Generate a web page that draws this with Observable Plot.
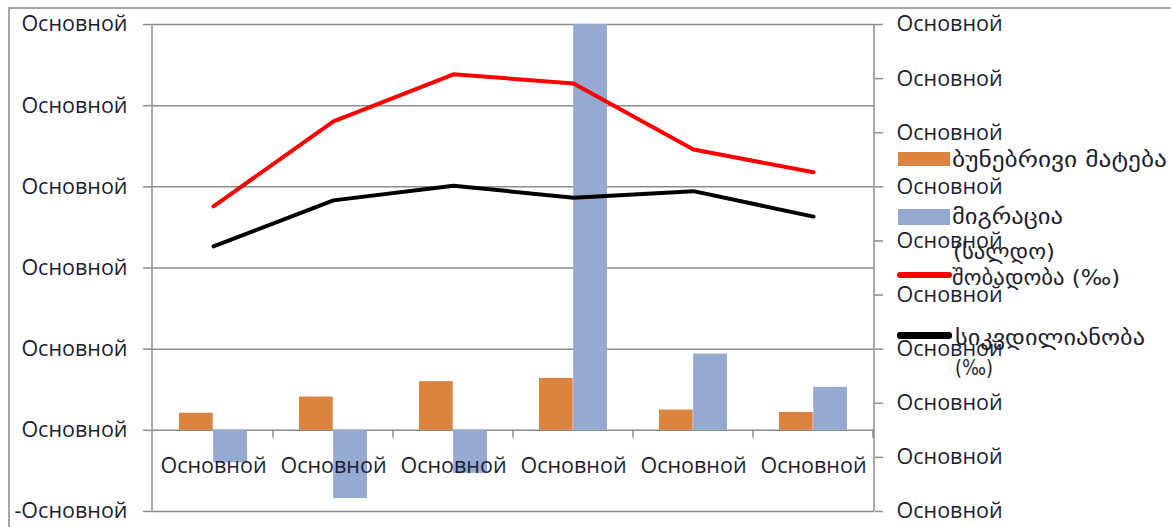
<!DOCTYPE html>
<html><head><meta charset="utf-8">
<script src="https://cdn.jsdelivr.net/npm/d3@7"></script>
<script src="https://cdn.jsdelivr.net/npm/@observablehq/plot@0.6"></script>
<style>
body{margin:0;background:#fff;}
#wrap{position:relative;width:1171px;height:527px;overflow:hidden;font-family:"Open Sans","DejaVu Sans",sans-serif;background:#fff;}
#border{position:absolute;left:8px;top:7px;width:1200px;height:600px;border-left:2px solid #a6a6a6;border-top:2px solid #a6a6a6;}
#chart{position:absolute;left:0;top:0;}
.sw{position:absolute;}
.lg{position:absolute;font-size:21px;color:#1e1e2e;line-height:1;white-space:nowrap;font-family:"DejaVu Sans",sans-serif;transform-origin:0 0;}
</style></head><body><div id="wrap"><div id="border"></div><div id="chart"></div></div>
<script>
// ---- data ----
const categories = ["c1","c2","c3","c4","c5","c6"];
const categoryLabel = "Основной";
const naturalIncrease = [210, 410, 600, 640, 250, 220];     // left axis
const migration = [-400, -840, -530, 5000, 940, 530];        // left axis
const birthRate = [13.64, 15.21, 16.08, 15.91, 14.69, 14.27]; // right axis (‰)
const deathRate = [12.90, 13.75, 14.02, 13.80, 13.92, 13.45]; // right axis (‰)
const leftTicks = [-1000, 0, 1000, 2000, 3000, 4000, 5000];
const rightTicks = [8, 9, 10, 11, 12, 13, 14, 15, 16, 17];
const seriesNames = ["ბუნებრივი მატება", "მიგრაცია", "(სალდო)", "შობადობა (‰)", "სიკვდილიანობა", "(‰)"];
const colors = {nat:"#DC843F", mig:"#95AAD1", birth:"#FF0000", death:"#000000"};

// right axis -> left axis mapping
const leftDom = [-1000, 5000], rightDom = [8, 17];
const toLeft = v => leftDom[0] + (v - rightDom[0]) / (rightDom[1] - rightDom[0]) * (leftDom[1] - leftDom[0]);

const barsNat = categories.map((c, i) => ({c, v: naturalIncrease[i]}));
const barsMig = categories.map((c, i) => ({c, v: migration[i]}));
const lineBirth = categories.map((c, i) => ({c, v: toLeft(birthRate[i])}));
const lineDeath = categories.map((c, i) => ({c, v: toLeft(deathRate[i])}));

const gray = "#8c8c8c";
const textColor = "#1e1e2e";
const font = "'Open Sans','DejaVu Sans',sans-serif";

const axisLines = (index, scales, values, dims) => {
  const g = document.createElementNS("http://www.w3.org/2000/svg", "g");
  const l = dims.marginLeft, r = dims.width - dims.marginRight;
  const t = dims.marginTop, b = dims.height - dims.marginBottom;
  const y0 = scales.y(0);
  const bw = scales.x.bandwidth ? scales.x.bandwidth() : 0;
  let s = `<line x1="${l}" x2="${l}" y1="${t}" y2="${b}" stroke="${gray}" stroke-width="1.5"/>`;
  s += `<line x1="${r}" x2="${r}" y1="${t}" y2="${b}" stroke="${gray}" stroke-width="1.5"/>`;
  categories.forEach((c, i) => {
    const x = scales.x(c) + bw;
    s += `<line x1="${x}" x2="${x}" y1="${y0}" y2="${y0 + 8}" stroke="${gray}" stroke-width="1.5"/>`;
  });
  g.innerHTML = s;
  return g;
};

const chart = Plot.plot({
  width: 1171, height: 527,
  marginLeft: 152, marginRight: 297, marginTop: 24, marginBottom: 16,
  style: {fontFamily: font, fontSize: "21.5px", color: textColor, background: "transparent", overflow: "visible"},
  x: {domain: categories, padding: 0, axis: null},
  y: {domain: leftDom, axis: null},
  marks: [
    Plot.gridY(leftTicks, {stroke: gray, strokeOpacity: 1, strokeWidth: 1.5}),
    Plot.axisY(leftTicks, {anchor: "left", label: null, tickSize: 9, tickPadding: 16, stroke: gray, strokeWidth: 1.5, fill: textColor,
      tickFormat: d => d < 0 ? "-" + categoryLabel : categoryLabel}),
    Plot.axisY(rightTicks.map(toLeft), {anchor: "right", label: null, tickSize: 8, tickPadding: 14, stroke: gray, strokeWidth: 1.5, fill: textColor,
      tickFormat: () => categoryLabel}),
    Plot.barY(barsNat, {x: "c", y: "v", fill: colors.nat, insetLeft: 26, insetRight: 60.3}),
    Plot.barY(barsMig, {x: "c", y: "v", fill: colors.mig, insetLeft: 60.2, insetRight: 26}),
    axisLines,
    Plot.text(categories, {x: d => d, y: 0, dy: 36, text: () => categoryLabel, fill: textColor}),
    Plot.line(lineBirth, {x: "c", y: "v", stroke: colors.birth, strokeWidth: 4, strokeLinejoin: "round"}),
    Plot.line(lineDeath, {x: "c", y: "v", stroke: colors.death, strokeWidth: 4, strokeLinejoin: "round"})
  ]
});
document.getElementById("chart").appendChild(chart);

// legend
const wrap = document.getElementById("wrap");
function add(html) { wrap.insertAdjacentHTML("beforeend", html); }
add(`<div class="sw" style="left:898px;top:152px;width:52px;height:14px;background:${colors.nat}"></div>`);
add(`<div class="sw" style="left:898px;top:209px;width:52px;height:16px;background:${colors.mig}"></div>`);
add(`<div class="sw" style="left:897px;top:272px;width:55px;height:6px;background:${colors.birth};border-radius:3px"></div>`);
add(`<div class="sw" style="left:897px;top:332px;width:55px;height:7px;background:${colors.death};border-radius:3px"></div>`);
// legend texts: [text, left, top, target width]
const legendTexts = [
  [seriesNames[0], 952, 150, 215],
  [seriesNames[1], 952, 207, 111],
  [seriesNames[2], 953, 242, 102],
  [seriesNames[3], 952, 268, 168],
  [seriesNames[4], 955, 328, 190],
  [seriesNames[5], 955, 358, 38]
];
legendTexts.forEach(([t, x, y, w]) => {
  const d = document.createElement("div");
  d.className = "lg";
  d.style.left = x + "px"; d.style.top = y + "px";
  d.textContent = t;
  wrap.appendChild(d);
  const mw = d.getBoundingClientRect().width;
  if (mw > 0) d.style.transform = `scaleX(${w / mw})`;
});
</script>
</body></html>
